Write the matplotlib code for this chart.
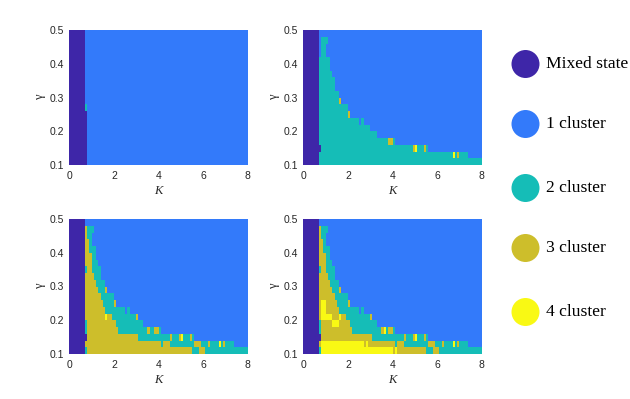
import numpy as np
import matplotlib
matplotlib.use('Agg')
import matplotlib.pyplot as plt
from matplotlib.colors import ListedColormap, BoundaryNorm

# ---------------- data ----------------
state_labels = ['Mixed state', '1 cluster', '2 cluster', '3 cluster', '4 cluster']
state_colors = ['#3E26A8', '#337AFA', '#15BDB7', '#CDBE2B', '#F9F914']

k_min, k_max, k_step = 0.0, 8.0, 0.1
gamma_step = 0.02
# lower edge of each gamma row, listed top to bottom
gamma_rows = [0.48, 0.46, 0.44, 0.42, 0.40, 0.38, 0.36, 0.34, 0.32, 0.30,
              0.28, 0.26, 0.24, 0.22, 0.20, 0.18, 0.16, 0.14, 0.12, 0.10]

x_ticks = [0, 2, 4, 6, 8]
y_ticks = [0.1, 0.2, 0.3, 0.4, 0.5]

# panel (a): K where the mixed state ends, per gamma row
mixed_edge_a = [0.7, 0.7, 0.7, 0.7, 0.7, 0.7, 0.7, 0.7, 0.7, 0.7,
                0.7, 0.7, 0.8, 0.8, 0.8, 0.8, 0.8, 0.8, 0.8, 0.8]
three_edge_a = [0.7, 0.7, 0.7, 0.7, 0.7, 0.7, 0.7, 0.7, 0.7, 0.7,
                0.7, 0.7, 0.8, 0.8, 0.8, 0.8, 0.8, 0.8, 0.8, 0.8]
two_edge_a = [0.7, 0.7, 0.7, 0.7, 0.7, 0.7, 0.7, 0.7, 0.7, 0.7,
              0.7, 0.7, 0.8, 0.8, 0.8, 0.8, 0.8, 0.8, 0.8, 0.8]
specks_a = [(0.26, 0.7, 0.8, 2)]

# panel (b)
mixed_edge_b = [0.7, 0.7, 0.7, 0.7, 0.7, 0.7, 0.7, 0.7, 0.7, 0.7,
                0.7, 0.7, 0.7, 0.7, 0.7, 0.7, 0.7, 0.8, 0.7, 0.7]
three_edge_b = [0.7, 0.7, 0.7, 0.7, 0.7, 0.7, 0.7, 0.7, 0.7, 0.7,
                0.7, 0.7, 0.7, 0.7, 0.7, 0.7, 0.7, 0.8, 0.7, 0.7]
two_edge_b = [0.7, 1.1, 1.0, 1.0, 1.2, 1.2, 1.3, 1.4, 1.4, 1.6,
              1.6, 2.0, 2.0, 2.5, 3.0, 3.3, 4.1, 5.6, 7.4, 8.0]
specks_b = [(0.46, 0.7, 0.8, 1), (0.44, 0.7, 0.8, 1), (0.42, 0.7, 0.8, 1),
            (0.28, 1.6, 1.7, 3), (0.24, 2.0, 2.1, 3), (0.22, 2.6, 2.7, 2),
            (0.16, 3.8, 4.0, 3), (0.14, 4.9, 5.0, 3), (0.14, 5.0, 5.1, 4),
            (0.14, 5.4, 5.5, 3), (0.12, 6.7, 6.8, 4), (0.12, 6.9, 7.0, 3)]

# panel (c)
mixed_edge_c = [0.7, 0.7, 0.7, 0.7, 0.7, 0.7, 0.7, 0.7, 0.7, 0.7,
                0.7, 0.7, 0.7, 0.7, 0.7, 0.7, 0.7, 0.8, 0.7, 0.7]
three_edge_c = [0.7, 0.8, 0.8, 0.9, 0.9, 1.0, 1.0, 1.0, 1.1, 1.2,
                1.3, 1.4, 1.5, 1.6, 1.9, 2.1, 2.2, 3.1, 4.1, 5.5]
two_edge_c = [0.7, 1.1, 1.0, 1.0, 1.2, 1.2, 1.3, 1.4, 1.4, 1.6,
              1.6, 2.0, 2.0, 2.5, 3.0, 3.3, 4.1, 5.6, 7.4, 8.0]
specks_c = [(0.34, 0.7, 0.8, 2), (0.28, 1.6, 1.7, 3), (0.24, 2.0, 2.1, 3),
            (0.22, 2.6, 2.7, 2), (0.20, 1.6, 1.7, 4), (0.20, 3.0, 3.1, 3),
            (0.18, 0.7, 0.8, 2), (0.16, 0.7, 0.8, 2), (0.16, 3.5, 3.6, 3),
            (0.16, 3.8, 4.0, 3), (0.14, 4.5, 4.6, 3), (0.14, 4.9, 5.0, 3),
            (0.14, 5.0, 5.1, 4), (0.14, 5.4, 5.5, 3), (0.12, 4.2, 4.5, 3),
            (0.12, 5.6, 5.9, 3), (0.12, 6.2, 6.3, 3), (0.12, 6.7, 6.8, 4),
            (0.12, 6.9, 7.0, 3), (0.10, 0.7, 0.8, 2), (0.10, 5.8, 6.1, 3)]

# panel (d)
mixed_edge_d = [0.7, 0.7, 0.7, 0.7, 0.7, 0.7, 0.7, 0.7, 0.7, 0.7,
                0.7, 0.7, 0.7, 0.7, 0.7, 0.7, 0.7, 0.8, 0.7, 0.7]
three_edge_d = [0.7, 0.8, 0.8, 0.9, 0.9, 1.0, 1.0, 1.0, 1.1, 1.2,
                1.3, 1.4, 1.5, 1.6, 1.9, 2.1, 2.2, 3.1, 4.1, 5.5]
two_edge_d = [0.7, 1.1, 1.0, 1.0, 1.2, 1.2, 1.3, 1.4, 1.4, 1.6,
              1.6, 2.0, 2.0, 2.5, 3.0, 3.3, 4.1, 5.6, 7.4, 8.0]
specks_d = [(0.34, 0.7, 0.8, 2), (0.28, 1.6, 1.7, 3), (0.24, 2.0, 2.1, 3),
            (0.22, 2.6, 2.7, 2), (0.20, 1.6, 1.7, 4), (0.20, 3.0, 3.1, 3),
            (0.18, 0.7, 0.8, 2), (0.16, 0.7, 0.8, 2), (0.16, 3.5, 3.6, 3),
            (0.16, 3.6, 3.7, 4), (0.16, 3.8, 4.0, 3), (0.14, 4.5, 4.6, 3),
            (0.14, 4.9, 5.0, 3), (0.14, 5.0, 5.1, 4), (0.14, 5.4, 5.5, 3),
            (0.12, 4.2, 4.5, 3), (0.12, 5.6, 5.9, 3), (0.12, 6.2, 6.3, 3),
            (0.12, 6.7, 6.8, 4), (0.12, 6.9, 7.0, 3), (0.10, 0.7, 0.8, 2),
            (0.10, 5.8, 6.1, 3),
            (0.24, 0.8, 1.0, 4), (0.22, 0.8, 1.0, 4), (0.20, 0.8, 1.3, 4),
            (0.18, 1.3, 1.6, 4), (0.12, 0.8, 2.7, 4), (0.12, 2.8, 2.9, 4),
            (0.10, 0.8, 4.0, 4), (0.10, 4.1, 4.2, 4)]

panels = [
    (mixed_edge_a, three_edge_a, two_edge_a, specks_a),
    (mixed_edge_b, three_edge_b, two_edge_b, specks_b),
    (mixed_edge_c, three_edge_c, two_edge_c, specks_c),
    (mixed_edge_d, three_edge_d, two_edge_d, specks_d),
]


def build_grid(mixed_edge, three_edge, two_edge, specks):
    n_cols = int(round((k_max - k_min) / k_step))
    k_centers = k_min + k_step * (np.arange(n_cols) + 0.5)
    grid = np.ones((len(gamma_rows), n_cols), dtype=int)
    for i in range(len(gamma_rows)):
        grid[i, k_centers < two_edge[i]] = 2
        grid[i, k_centers < three_edge[i]] = 3
        grid[i, k_centers < mixed_edge[i]] = 0
    for g, k0, k1, s in specks:
        i = int(np.argmin(np.abs(np.array(gamma_rows) - g)))
        grid[i, (k_centers > k0) & (k_centers < k1)] = s
    return grid


# ---------------- figure ----------------
W, H = 630, 399
fig = plt.figure(figsize=(W / 100, H / 100), dpi=100)

cmap = ListedColormap(state_colors)
norm = BoundaryNorm(np.arange(-0.5, len(state_colors) + 0.5, 1), cmap.N)

ax_left = [69.3, 303.3]
ax_top = [30, 219]
ax_w, ax_h = 178.4, 135

n_cols = int(round((k_max - k_min) / k_step))
k_edges = k_min + k_step * np.arange(n_cols + 1)
gamma_edges = np.append(np.array(gamma_rows)[::-1], gamma_rows[0] + gamma_step)

tick_color = '#262626'
for idx, data in enumerate(panels):
    r, c = divmod(idx, 2)
    left = ax_left[c] / W
    bottom = (H - ax_top[r] - ax_h) / H
    ax = fig.add_axes([left, bottom, ax_w / W, ax_h / H])
    grid = build_grid(*data)
    ax.pcolormesh(k_edges, gamma_edges, grid[::-1], cmap=cmap, norm=norm,
                  shading='flat', edgecolors='none', antialiased=False)
    ax.set_xlim(0, 8)
    ax.set_ylim(0.1, 0.5)
    ax.set_xticks(x_ticks)
    ax.set_yticks(y_ticks)
    ax.set_xticklabels([str(t) for t in x_ticks])
    ax.set_yticklabels([f'{t:.1f}' for t in y_ticks])
    for sp in ax.spines.values():
        sp.set_visible(False)
    ax.tick_params(length=0, pad=4, labelsize=7.5, colors=tick_color)
    for lab in ax.get_xticklabels() + ax.get_yticklabels():
        lab.set_fontfamily('Liberation Sans')
    ax.set_xlabel('K', fontfamily='Liberation Serif', fontstyle='italic',
                  fontsize=9, color=tick_color)
    ax.xaxis.set_label_coords(0.5, -0.15)
    ax.set_ylabel('γ', fontfamily='Liberation Serif', fontsize=9,
                  color=tick_color)
    ax.yaxis.set_label_coords(-0.13, 0.5)

# legend
lax = fig.add_axes([0, 0, 1, 1])
lax.set_xlim(0, W)
lax.set_ylim(H, 0)
lax.axis('off')
legend_y = [64, 124, 188, 248, 312]
for lab, col, y in zip(state_labels, state_colors, legend_y):
    lax.scatter([525.5], [y], s=(28 * 0.72) ** 2, color=col, edgecolors='none')
    lax.text(546, y, lab, fontfamily='Liberation Serif', fontsize=12.6,
             va='center', ha='left', color='black')

fig.savefig('out.png', dpi=100)
